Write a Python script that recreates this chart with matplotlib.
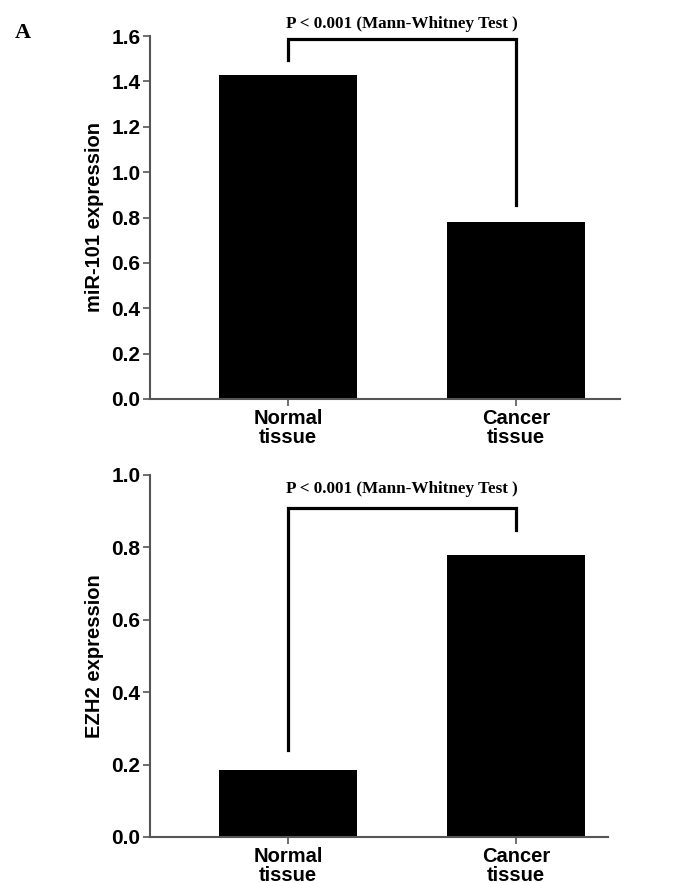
import numpy as np
from matplotlib import pyplot as plt

categories = ["Normal\ntissue", "Cancer\ntissue"]
mir101_values = [1.43, 0.78]
ezh2_values = [0.185, 0.78]
mir101_ticks = [0.0, 0.2, 0.4, 0.6, 0.8, 1.0, 1.2, 1.4, 1.6]
ezh2_ticks = [0.0, 0.2, 0.4, 0.6, 0.8, 1.0]
p_text = "P < 0.001 (Mann-Whitney Test )"

# bracket: top level, left leg end, right leg end
mir101_bracket = [1.585, 1.495, 0.855]
ezh2_bracket = [0.91, 0.24, 0.848]

sans = ["Liberation Sans", "DejaVu Sans"]
serif = ["Liberation Serif", "DejaVu Serif"]


def style_axes(ax, ticks, ylabel, xright):
    x = np.arange(len(categories))
    ax.set_xlim(-0.605, xright)
    ax.set_ylim(ticks[0], ticks[-1])
    ax.set_yticks(ticks)
    ax.set_yticklabels(["%.1f" % t for t in ticks], fontsize=15,
                       fontweight="bold", family=sans)
    ax.set_xticks(x)
    ax.set_xticklabels(categories, fontsize=14.5, fontweight="bold",
                       family=sans, linespacing=1.0)
    for side in ["top", "right"]:
        ax.spines[side].set_visible(False)
    for side in ["left", "bottom"]:
        ax.spines[side].set_color("#555555")
        ax.spines[side].set_linewidth(1.5)
    ax.tick_params(axis="both", direction="out", length=5, width=1.2,
                   color="#555555", pad=2)
    ax.set_ylabel(ylabel, fontsize=14.5, fontweight="bold", family=sans,
                  labelpad=5)


def draw_bracket(ax, levels):
    top, left_end, right_end = levels
    ax.plot([0, 0, 1, 1], [left_end, top, top, right_end], color="black",
            lw=2.3, clip_on=False, solid_joinstyle="miter")


fig = plt.figure(figsize=(6.88, 8.83), dpi=100)

ax1 = fig.add_axes([150 / 688, 1 - 399 / 883, 470 / 688, 363 / 883])
x = np.arange(len(categories))
ax1.bar(x, mir101_values, width=0.605, color="black")
style_axes(ax1, mir101_ticks, "miR-101 expression", 1.456)
draw_bracket(ax1, mir101_bracket)
ax1.text(0.5, 1.655, p_text, ha="center", va="center", fontsize=12.3,
         fontweight="bold", family=serif, clip_on=False)

ax2 = fig.add_axes([150 / 688, 1 - 837 / 883, 458 / 688, 362 / 883])
ax2.bar(x, ezh2_values, width=0.605, color="black")
style_axes(ax2, ezh2_ticks, "EZH2 expression", 1.403)
draw_bracket(ax2, ezh2_bracket)
ax2.text(0.5, 0.96, p_text, ha="center", va="center", fontsize=12.3,
         fontweight="bold", family=serif)

fig.text(15 / 688, 1 - 33 / 883, "A", fontsize=16, fontweight="bold",
         family=serif, va="center", ha="left")

fig.savefig("out.png", dpi=100)
